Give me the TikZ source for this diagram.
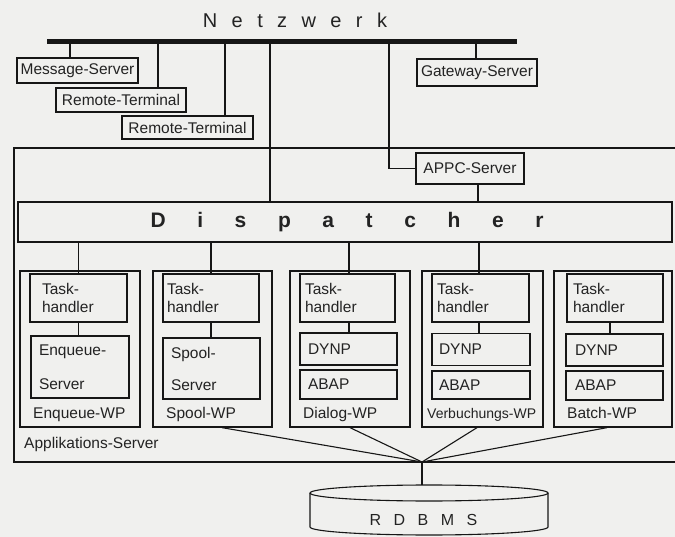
\documentclass[tikz,border=0pt]{standalone}
\usepackage{fontspec}
\setmainfont{Liberation Sans}
\definecolor{paper}{RGB}{240,240,238}
\definecolor{ink}{RGB}{22,22,22}
\definecolor{txt}{RGB}{35,35,35}
\newcommand\fs{\fontsize{15.5}{18}\selectfont}
\begin{document}
\begin{tikzpicture}[x=1pt,y=-1pt,
  bx/.style={draw=ink, line width=1.3pt, inner sep=0pt, text=txt, font=\fs},
  lb/.style={bx, align=left},
  lbl/.style={text=txt, font=\fs, inner sep=0pt, anchor=base west},
  ln/.style={draw=ink, line width=1.1pt},
  big/.style={text=txt, inner sep=0pt, anchor=base}]
\path[fill=paper] (0,0) rectangle (675,537);
\useasboundingbox (0,0) rectangle (675,537);

% Applikations-Server frame
\node[draw=ink, line width=1.6pt, inner sep=0pt, minimum width=666pt, minimum height=314pt] (app) at (347,305) {};
\node[lbl] (applbl) at (24,448) {Applikations-Server};

% Network
\node[big, font=\fontsize{20}{24}\selectfont] (net) at (295,28) {\spaceskip=14.4pt N e t z w e r k};
\coordinate (barL) at (47,42);
\coordinate (barR) at (517,42);
\draw[ink, line width=5pt] (barL) -- (barR);

\node[bx, minimum width=121pt, minimum height=25pt] (ms) at (77.5,70.5) {Message-Server};
\node[bx, minimum width=130pt, minimum height=24pt] (rt1) at (121,100) {Remote-Terminal};
\node[bx, minimum width=131pt, minimum height=23pt] (rt2) at (187.5,127.5) {Remote-Terminal};
\node[bx, minimum width=120pt, minimum height=27pt] (gw) at (477,72.5) {Gateway-Server};
\node[bx, minimum width=108pt, minimum height=31pt] (appc) at (470,168.5) {APPC-Server};
\node[bx, minimum width=654pt, minimum height=40pt] (dsp) at (345,222) {};
\node[big, font=\fontsize{21}{24}\bfseries\selectfont] (dsptxt) at (347,228) {\spaceskip=31.6pt D i s p a t c h e r};

\coordinate (n1) at (70,42);
\coordinate (n2) at (158,42);
\coordinate (n3) at (225,42);
\coordinate (n4) at (270,42);
\coordinate (n5) at (389,42);
\coordinate (n6) at (476,42);
\draw[ln] (n1) -- (n1 |- ms.north);
\draw[ln] (n2) -- (n2 |- rt1.north);
\draw[ln] (n3) -- (n3 |- rt2.north);
\draw[ln] (n4) -- (n4 |- dsp.north);
\draw[ln] (n5) |- (appc.west);
\draw[ln] (n6) -- (n6 |- gw.north);
\draw[ln] ([xshift=8pt]appc.south) -- ([xshift=8pt]appc.south |- dsp.north);

% Work processes
\node[bx, minimum width=120pt, minimum height=156pt] (enqWP) at (80,349) {};
\node[bx, minimum width=119pt, minimum height=156pt] (spWP) at (212.5,349) {};
\node[bx, minimum width=120pt, minimum height=156pt] (dlWP) at (350,349) {};
\node[bx, minimum width=121pt, minimum height=156pt] (vbWP) at (482.5,349) {};
\node[bx, minimum width=118pt, minimum height=156pt] (btWP) at (613,349) {};

\node[lbl] (enqL) at (33,418) {Enqueue-WP};
\node[lbl] (spL) at (166,418) {Spool-WP};
\node[lbl] (dlL) at (303,418) {Dialog-WP};
\node[lbl, font=\fontsize{14}{17}\selectfont] (vbL) at (427,418) {Verbuchungs-WP};
\node[lbl] (btL) at (567,418) {Batch-WP};

% Task handlers
\node[lb, text width=73pt, inner xsep=12pt, minimum height=48pt] (enqT) at (78.5,298) {Task-\\handler};
\node[lb, text width=88pt, inner xsep=4pt, minimum height=48pt] (spT) at (211,298) {Task-\\handler};
\node[lb, text width=85pt, inner xsep=5pt, minimum height=48pt] (dlT) at (347.5,298) {Task-\\handler};
\node[lb, text width=87pt, inner xsep=5pt, minimum height=48pt] (vbT) at (480.5,298) {Task-\\handler};
\node[lb, text width=84pt, inner xsep=6pt, minimum height=48pt] (btT) at (615,298) {Task-\\handler};

% Inner boxes
\node[lb, text width=82pt, inner xsep=8pt, minimum height=62pt] (enqS) at (80,367) {Enqueue-\\[16pt]Server};
\node[lb, text width=81pt, inner xsep=8pt, minimum height=61pt] (spS) at (211.5,368.5) {Spool-\\[14pt]Server};

\node[lb, text width=81pt, inner xsep=8pt, minimum height=32pt] (dlD) at (348.5,349) {DYNP};
\node[lb, text width=81pt, inner xsep=8pt, minimum height=29pt] (dlA) at (348.5,384.5) {ABAP};
\node[lb, text width=84pt, inner xsep=7pt, minimum height=32pt] (vbD) at (481,349.5) {DYNP};
\node[lb, text width=84pt, inner xsep=7pt, minimum height=28pt] (vbA) at (481,385) {ABAP};
\node[lb, text width=79pt, inner xsep=9pt, minimum height=32pt] (btD) at (614.5,350) {DYNP};
\node[lb, text width=79pt, inner xsep=9pt, minimum height=29pt] (btA) at (614.5,385.5) {ABAP};

% Dispatcher to work processes
\draw[ln] (dsp.south -| enqT.north) -- (enqT.north);
\draw[ln] (dsp.south -| spT.north) -- (spT.north);
\draw[ln] ([xshift=1.5pt]dsp.south -| dlT.north) -- ([xshift=1.5pt]dlT.north);
\draw[ln] ([xshift=-1.5pt]dsp.south -| vbT.north) -- ([xshift=-1.5pt]vbT.north);

% Task handler to inner boxes
\draw[ln] (enqT.south) -- (enqT.south |- enqS.north);
\draw[ln] (spT.south) -- (spT.south |- spS.north);
\draw[ln] ([xshift=1.5pt]dlT.south) -- ([xshift=1.5pt]dlT.south |- dlD.north);
\draw[ln] ([xshift=-1.5pt]vbT.south) -- ([xshift=-1.5pt]vbT.south |- vbD.north);
\draw[ink, line width=1.7pt] ([xshift=-5pt]btT.south) -- ([xshift=-5pt]btT.south |- btD.north);

% Database connections
\coordinate (cv) at (422,462);
\coordinate (dbtop) at (422,485);
\draw[ln] ([xshift=9.5pt]spWP.south) -- (cv);
\draw[ln] (dlWP.south) -- (cv);
\draw[ln] ([xshift=-5.5pt]vbWP.south) -- (cv);
\draw[ln] ([xshift=-6pt]btWP.south) -- (cv);
\draw[ln] (cv) -- (dbtop);

% RDBMS cylinder
\draw[ln] (310,493) -- (310,527) arc[start angle=180, end angle=360, x radius=119pt, y radius=8pt] -- (548,493);
\draw[ln] (429,493) ellipse [x radius=119pt, y radius=8pt];
\node[big, font=\fontsize{16}{18}\selectfont] (db) at (423.5,525) {\spaceskip=12.5pt R D B M S};
\end{tikzpicture}
\end{document}
